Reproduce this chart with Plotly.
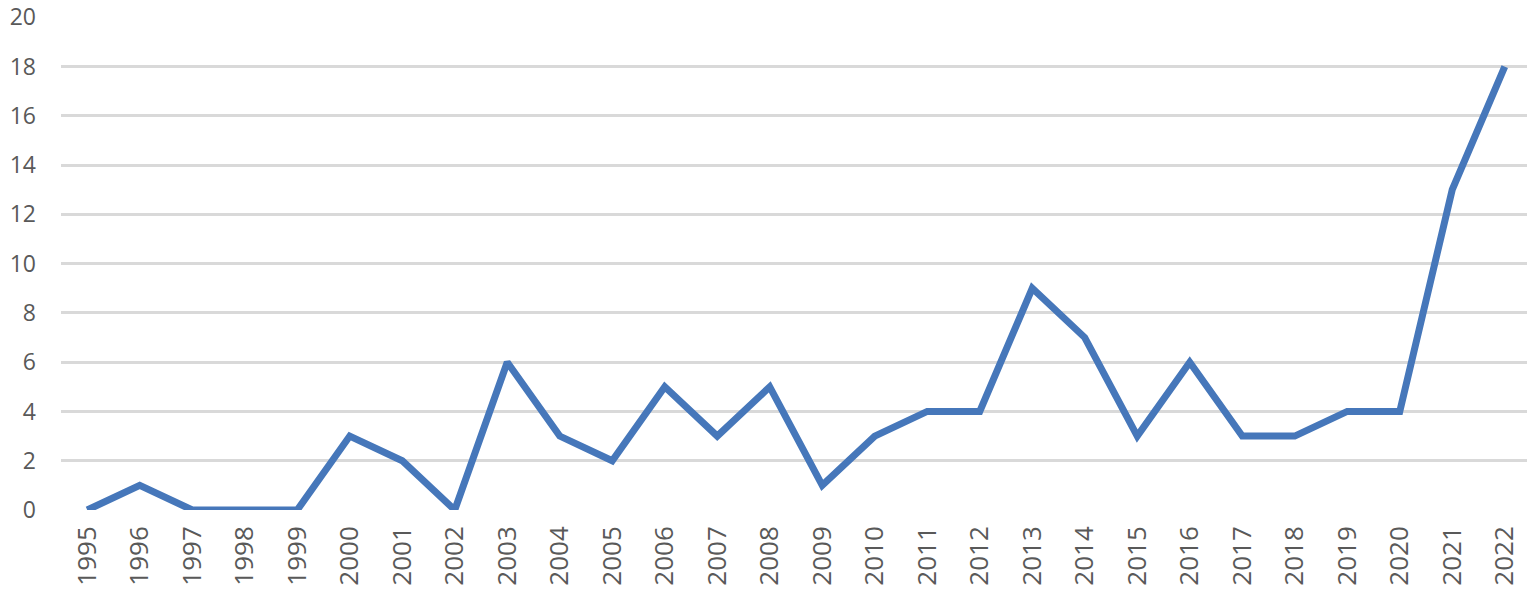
import plotly.graph_objects as go

years = [str(y) for y in range(1995, 2023)]
counts = [0, 1, 0, 0, 0, 3, 2, 0, 6, 3, 2, 5, 3, 5, 1, 3, 4, 4, 9, 7, 3, 6, 3, 3, 4, 4, 13, 18]
y_ticks = list(range(0, 21, 2))

fig = go.Figure()
fig.add_trace(go.Scatter(
    x=years,
    y=counts,
    mode='lines',
    line=dict(color='#4677BA', width=7),
    showlegend=False
))

# page body has an 8px default margin, so the figure is shifted by that much
fig.update_layout(
    width=1527,
    height=587,
    margin=dict(t=9, l=53, r=4, b=85),
    plot_bgcolor='white',
    paper_bgcolor='white',
    font=dict(family='Open Sans', size=26, color='#595959'),
)
fig.update_xaxes(
    type='category',
    range=[-0.5, 27.5],
    tickangle=-90,
    showgrid=False,
    showline=False,
    ticks='',
    ticklabelstandoff=10,
    ticklabeloverflow='allow',
    automargin=False,
)
fig.update_yaxes(
    range=[0, 20.01],
    tickvals=y_ticks,
    tickfont=dict(size=23),
    showgrid=True,
    gridcolor='#D9D9D9',
    gridwidth=2.5,
    zeroline=False,
    ticks='',
    ticklabelstandoff=24,
    ticklabeloverflow='allow',
    automargin=False,
)

fig.write_html("out.html")
